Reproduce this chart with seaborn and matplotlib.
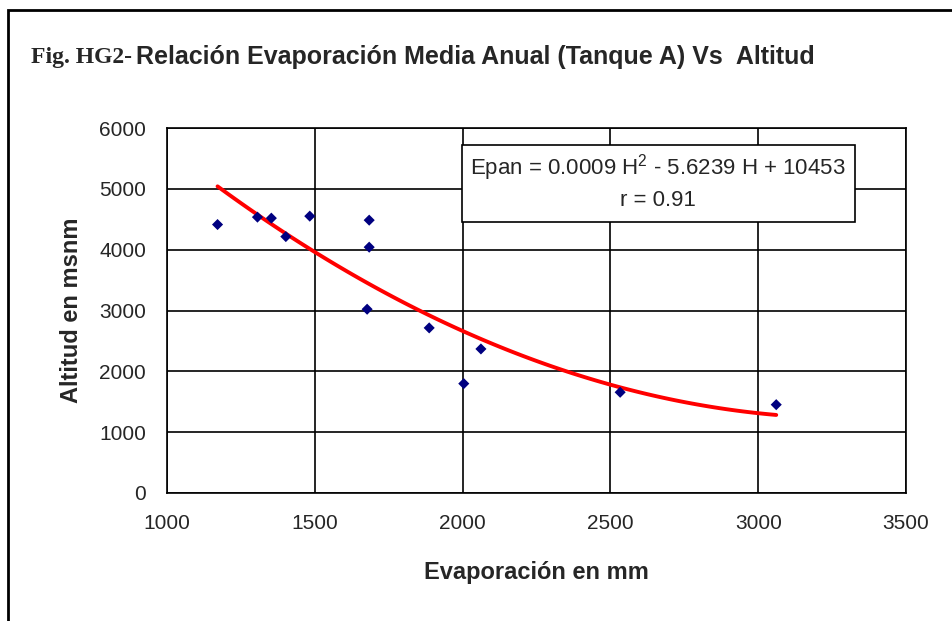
import matplotlib
matplotlib.use('Agg')
import matplotlib.pyplot as plt
from matplotlib.patches import Rectangle
import seaborn as sns
import pandas as pd

# values
evaporacion = [1171, 1306, 1353, 1402, 1483, 1684, 1684, 1677, 1887, 2004, 2062, 2533, 3061]
altitud = [4413, 4535, 4518, 4215, 4551, 4485, 4041, 3021, 2714, 1798, 2368, 1656, 1452]
x_ticks = [1000, 1500, 2000, 2500, 3000, 3500]
y_ticks = [0, 1000, 2000, 3000, 4000, 5000, 6000]
ecuacion = 'Epan = 0.0009 H$^{2}$ - 5.6239 H + 10453'
r_texto = 'r = 0.91'

df = pd.DataFrame({'Evaporacion': evaporacion, 'Altitud': altitud})

sns.set_style('white')
plt.rcParams['font.family'] = ['Liberation Sans', 'DejaVu Sans']
plt.rcParams['mathtext.default'] = 'regular'

W, H = 952, 621
fig = plt.figure(figsize=(W / 100, H / 100), dpi=100)
fig.patch.set_facecolor('white')

ax = fig.add_axes([167 / W, 1 - 493 / H, (906 - 167) / W, (493 - 128) / H])

sns.regplot(data=df, x='Evaporacion', y='Altitud', order=2, ci=None, scatter=False,
            truncate=True, color='#ff0000', line_kws={'lw': 2.8}, ax=ax)
sns.scatterplot(data=df, x='Evaporacion', y='Altitud', marker='D', s=32,
                color='#000080', edgecolor='none', ax=ax, zorder=5)

ax.set_xlim(1000, 3500)
ax.set_ylim(0, 6000)
ax.set_xticks(x_ticks)
ax.set_yticks(y_ticks)
ax.grid(True, color='black', lw=1.2)
for s in ax.spines.values():
    s.set_color('black')
    s.set_linewidth(1.2)
ax.tick_params(axis='both', direction='out', length=6, width=1.2, color='black',
               labelsize=15, pad=9)
ax.set_xlabel('Evaporación en mm', fontsize=17, fontweight='bold', labelpad=20)
ax.set_ylabel('Altitud en msnm', fontsize=17, fontweight='bold', labelpad=12)

# equation box
fig.patches.append(Rectangle((462 / W, 1 - 222 / H), 393 / W, 77 / H, transform=fig.transFigure,
                             facecolor='white', edgecolor='black', lw=1.2, zorder=10))
fig.text(658 / W, 1 - 168 / H, ecuacion, fontsize=16, ha='center', va='center', zorder=11)
fig.text(658 / W, 1 - 200 / H, r_texto, fontsize=16, ha='center', va='center', zorder=11)

# title: serif prefix + bold sans remainder
t1 = fig.text(31 / W, 1 - 57 / H, 'Fig. HG2-', fontsize=17, fontweight='bold',
              family=['Liberation Serif', 'DejaVu Serif'], va='center')
fig.canvas.draw()
bb = t1.get_window_extent()
fig.text((bb.x1 + 4) / W, 1 - 57 / H, 'Relación Evaporación Media Anual (Tanque A) Vs  Altitud',
         fontsize=18, fontweight='bold', va='center')

# outer frame (continues past right and bottom edges)
fig.patches.append(Rectangle((8 / W, -0.1), 1.2, 1.1 - 10 / H, transform=fig.transFigure,
                             fill=False, edgecolor='black', lw=2))

fig.savefig('out.png', dpi=100)
